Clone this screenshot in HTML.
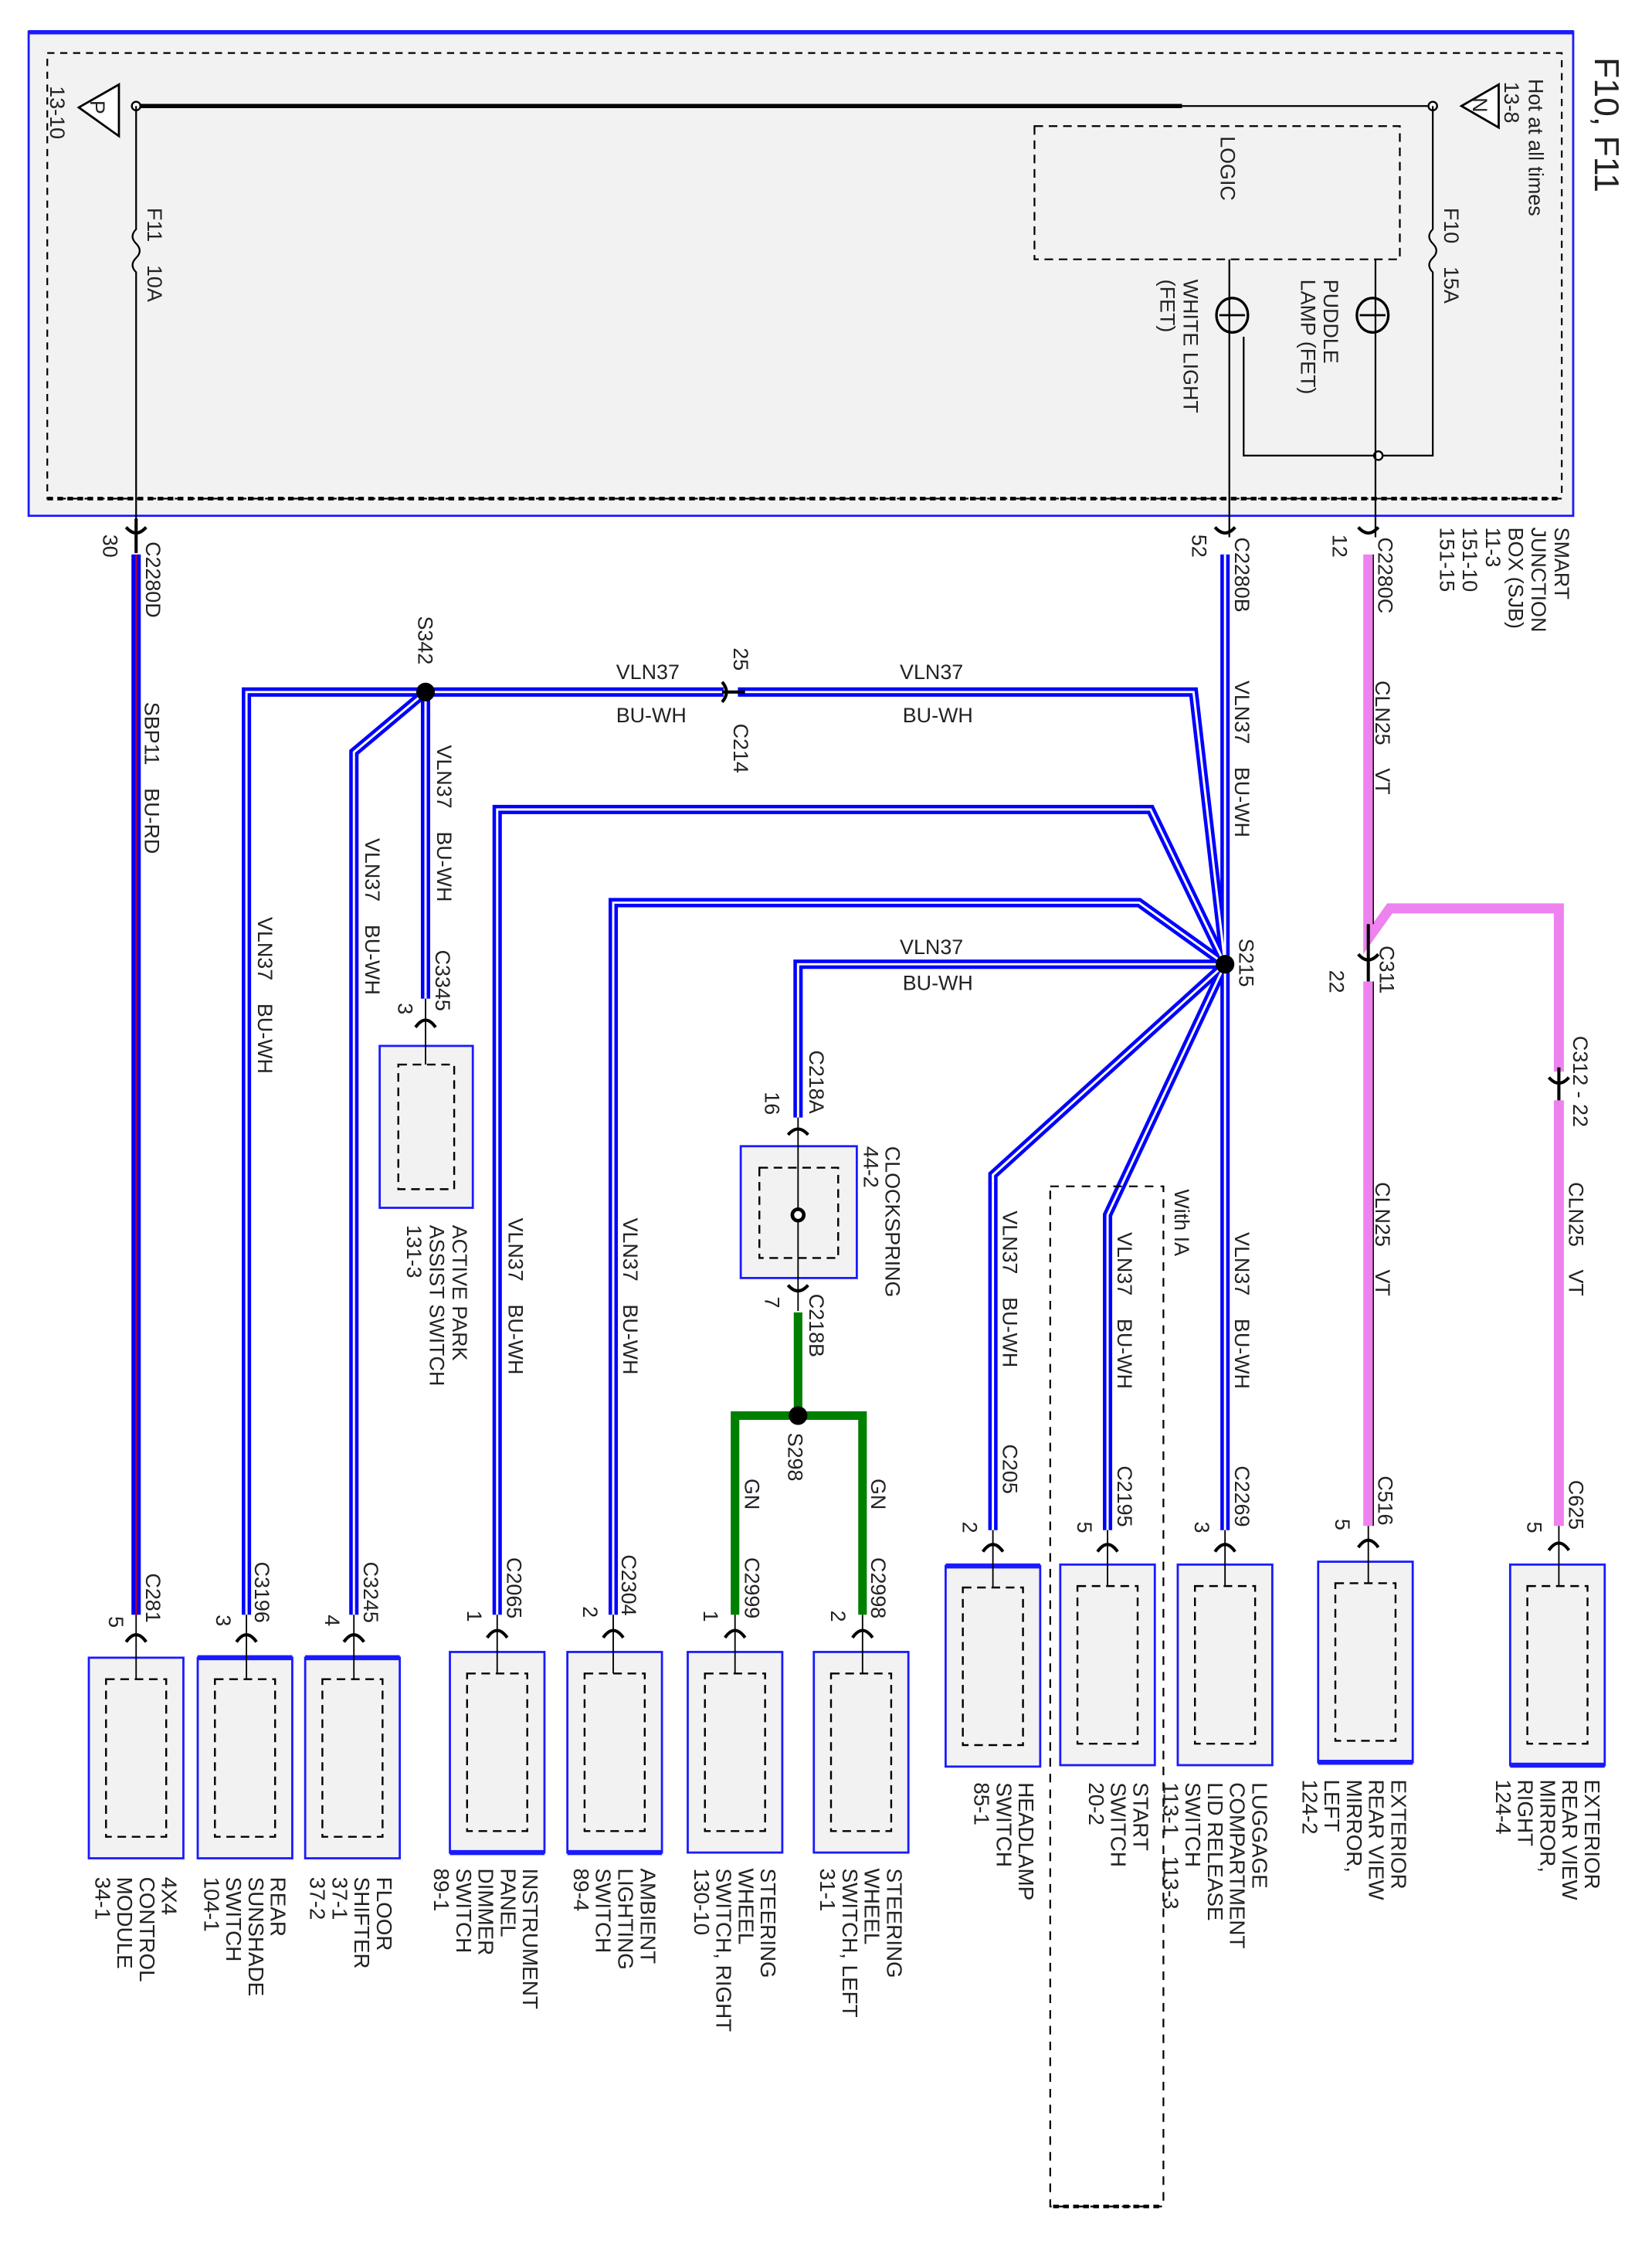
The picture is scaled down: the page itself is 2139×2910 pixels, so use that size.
<!DOCTYPE html>
<html><head><meta charset="utf-8"><style>
html,body{margin:0;padding:0;background:#fff;}
svg{display:block;}
text{font-family:"Liberation Sans",sans-serif;fill:#222;}
.w{fill:none;stroke:#0000ff;stroke-width:6.5;stroke-linejoin:miter;}
.wc{fill:none;stroke:#fff;stroke-width:1.6;stroke-linejoin:miter;}
.bx{fill:#f2f2f2;stroke:#1a1aff;stroke-width:1.5;}
.dbx{fill:none;stroke:#000;stroke-width:1.3;stroke-dasharray:6,4;}
.t{font-size:14.5px;}
.ws{word-spacing:12px;}
.lb{font-size:15px;}
.ch{fill:none;stroke:#000;stroke-width:2.2;}
</style></head><body>
<svg width="2139" height="2910" viewBox="0 0 1153 1569" preserveAspectRatio="none" xmlns="http://www.w3.org/2000/svg">
<rect x="20" y="22" width="1078" height="338" fill="#f2f2f2" stroke="#1a1aff" stroke-width="1.5"/>
<line x1="20" y1="22.5" x2="1098" y2="22.5" stroke="#1a1aff" stroke-width="3"/>
<rect x="33" y="37" width="1057" height="311" fill="none" stroke="#000" stroke-width="1.2" stroke-dasharray="5,4"/>
<line x1="33" y1="348" x2="1090" y2="348" stroke="#000" stroke-width="2.5" stroke-dasharray="4,3"/>
<text class="lb" style="font-size:24px" transform="translate(1113,40) rotate(90)">F10, F11</text>
<text class="t" transform="translate(1067,55) rotate(90)">Hot at all times</text>
<text class="t" transform="translate(1050,57) rotate(90)">13-8</text>
<text class="t" transform="translate(35,60) rotate(90)">13-10</text>
<line x1="95" y1="74" x2="825" y2="74" stroke="#000" stroke-width="3"/>
<line x1="825" y1="74" x2="1000" y2="74" stroke="#000" stroke-width="1.2"/>
<polygon points="55,75 83,59 83,95" fill="#fff" stroke="#000" stroke-width="1.5"/>
<text class="t" transform="translate(63,70) rotate(90)">P</text>
<polygon points="1020,74 1046,59 1046,89" fill="#fff" stroke="#000" stroke-width="1.5"/>
<text class="t" transform="translate(1028,68) rotate(90)">N</text>
<circle cx="95" cy="74" r="3" fill="#fff" stroke="#000" stroke-width="1.3"/>
<circle cx="1000" cy="74" r="3" fill="#fff" stroke="#000" stroke-width="1.3"/>
<path d="M95,74 V160 q-5,5 0,10 q5,5 0,10 q-5,5 0,10 V375" fill="none" stroke="#000" stroke-width="1.2"/>
<text class="t ws" transform="translate(103,145) rotate(90)">F11 10A</text>
<path d="M1000,74 V160 q-5,5 0,10 q5,5 0,10 q-5,5 0,10 V318 H868 V235" fill="none" stroke="#000" stroke-width="1.2"/>
<text class="t ws" transform="translate(1008,145) rotate(90)">F10 15A</text>
<circle cx="962" cy="318" r="3" fill="#fff" stroke="#000" stroke-width="1.3"/>
<rect x="722" y="88" width="255" height="93" fill="none" stroke="#000" stroke-width="1.2" stroke-dasharray="6,4"/>
<text class="t" transform="translate(852,95) rotate(90)">LOGIC</text>
<line x1="858" y1="181" x2="858" y2="375" stroke="#000" stroke-width="1.2"/>
<line x1="960" y1="181" x2="960" y2="375" stroke="#000" stroke-width="1.2"/>
<ellipse cx="860" cy="220" rx="11" ry="12" fill="none" stroke="#000" stroke-width="1.8"/>
<line x1="851" y1="220" x2="869" y2="220" stroke="#000" stroke-width="1.5"/>
<ellipse cx="958" cy="220" rx="11" ry="12" fill="none" stroke="#000" stroke-width="1.8"/>
<line x1="949" y1="220" x2="967" y2="220" stroke="#000" stroke-width="1.5"/>
<text class="t" transform="translate(924,195) rotate(90)">PUDDLE</text>
<text class="t" transform="translate(908,195) rotate(90)">LAMP (FET)</text>
<text class="t" transform="translate(826,195) rotate(90)">WHITE LIGHT</text>
<text class="t" transform="translate(810,195) rotate(90)">(FET)</text>
<g class="t">
<text transform="translate(1085,368) rotate(90)">SMART</text>
<text transform="translate(1069,368) rotate(90)">JUNCTION</text>
<text transform="translate(1053,368) rotate(90)">BOX (SJB)</text>
<text transform="translate(1037,368) rotate(90)">11-3</text>
<text transform="translate(1021,368) rotate(90)">151-10</text>
<text transform="translate(1005,368) rotate(90)">151-15</text>
</g>

<line x1="95" y1="387" x2="95" y2="1127" stroke="#0000ee" stroke-width="6.5"/>
<line x1="95" y1="387" x2="95" y2="1127" stroke="#e00" stroke-width="0.8"/>
<text class="t ws" transform="translate(101,490) rotate(90)">SBP11 BU-RD</text>

<path d="M955,387 V655 L970,634 H1088 V748" fill="none" stroke="#ee82ee" stroke-width="7"/>
<line x1="958.5" y1="387" x2="958.5" y2="645" stroke="#000" stroke-width="0.8"/>
<line x1="955" y1="685" x2="955" y2="1065" stroke="#ee82ee" stroke-width="7"/>
<line x1="958.5" y1="685" x2="958.5" y2="1065" stroke="#000" stroke-width="0.8"/>
<line x1="1088" y1="768" x2="1088" y2="1065" stroke="#ee82ee" stroke-width="7"/>
<text class="t ws" transform="translate(960,475) rotate(90)">CLN25 VT</text>
<text class="t ws" transform="translate(960,825) rotate(90)">CLN25 VT</text>
<text class="t ws" transform="translate(1095,825) rotate(90)">CLN25 VT</text>

<g>
<path class="w" d="M855,387 V1068"/>
<path class="w" d="M855,673 L833,483 H515"/>
<path class="w" d="M505,483 H297 M297,483 V697"/>
<path class="w" d="M297,483 H172 V1127"/>
<path class="w" d="M297,483 L247,525 V1127"/>
<path class="w" d="M855,673 L803,565 H347 V1127"/>
<path class="w" d="M855,673 L795,630 H428 V1127"/>
<path class="w" d="M855,673 H557 V780"/>
<path class="w" d="M855,673 L693,820 V1068"/>
<path class="w" d="M855,673 L773,848 V1068"/>
<path class="wc" d="M855,387 V1068"/>
<path class="wc" d="M855,673 L833,483 H515"/>
<path class="wc" d="M505,483 H297 M297,483 V697"/>
<path class="wc" d="M297,483 H172 V1127"/>
<path class="wc" d="M297,483 L247,525 V1127"/>
<path class="wc" d="M855,673 L803,565 H347 V1127"/>
<path class="wc" d="M855,673 L795,630 H428 V1127"/>
<path class="wc" d="M855,673 H557 V780"/>
<path class="wc" d="M855,673 L693,820 V1068"/>
<path class="wc" d="M855,673 L773,848 V1068"/>
</g>
<circle cx="855" cy="673" r="6.5" fill="#000"/>
<circle cx="297" cy="483" r="6.5" fill="#000"/>
<text class="t" transform="translate(865,655) rotate(90)">S215</text>
<text class="t" transform="translate(292,430) rotate(90)">S342</text>
<text class="t" x="430" y="474">VLN37</text><text class="t" x="430" y="504">BU-WH</text>
<text class="t" x="628" y="474">VLN37</text><text class="t" x="630" y="504">BU-WH</text>
<text class="t" x="628" y="666">VLN37</text><text class="t" x="630" y="691">BU-WH</text>
<g class="t ws">
<text transform="translate(862,475) rotate(90)">VLN37 BU-WH</text>
<text transform="translate(305,520) rotate(90)">VLN37 BU-WH</text>
<text transform="translate(255,585) rotate(90)">VLN37 BU-WH</text>
<text transform="translate(180,640) rotate(90)">VLN37 BU-WH</text>
<text transform="translate(355,850) rotate(90)">VLN37 BU-WH</text>
<text transform="translate(435,850) rotate(90)">VLN37 BU-WH</text>
<text transform="translate(700,845) rotate(90)">VLN37 BU-WH</text>
<text transform="translate(780,860) rotate(90)">VLN37 BU-WH</text>
<text transform="translate(862,860) rotate(90)">VLN37 BU-WH</text>
</g>

<path class="ch" d="M504,476 Q510,483 504,490 M504,483 H520"/>
<text class="t" transform="translate(512,452) rotate(90)">25</text>
<text class="t" transform="translate(512,505) rotate(90)">C214</text>

<rect x="517" y="800" width="81" height="92" class="bx"/>
<rect x="530" y="815" width="55" height="63" class="dbx"/>
<line x1="557" y1="780" x2="557" y2="915" stroke="#000" stroke-width="1"/>
<circle cx="557" cy="848" r="4" fill="#fff" stroke="#000" stroke-width="2.5"/>
<text class="t" transform="translate(618,800) rotate(90)">CLOCKSPRING</text>
<text class="t" transform="translate(603,800) rotate(90)">44-2</text>
<text class="t" transform="translate(565,733) rotate(90)">C218A</text>
<text class="t" transform="translate(534,762) rotate(90)">16</text>
<text class="t" transform="translate(565,903) rotate(90)">C218B</text>
<text class="t" transform="translate(534,905) rotate(90)">7</text>
<path d="M557,916 V988 M510,988 H605 M513,988 V1127 M602,988 V1127" fill="none" stroke="#008000" stroke-width="6"/>
<circle cx="557" cy="988" r="6.5" fill="#000"/>
<text class="t" transform="translate(550,1000) rotate(90)">S298</text>
<text class="t" transform="translate(520,1032) rotate(90)">GN</text>
<text class="t" transform="translate(608,1032) rotate(90)">GN</text>

<rect x="733" y="828" width="79" height="712" fill="none" stroke="#000" stroke-width="1.2" stroke-dasharray="6,5"/>
<line x1="735" y1="1540" x2="810" y2="1540" stroke="#000" stroke-width="2.5" stroke-dasharray="4,3"/>
<text class="t" transform="translate(820,830) rotate(90)">With IA</text>

<rect x="265" y="730" width="65" height="113" class="bx"/>
<rect x="278" y="743" width="39" height="87" class="dbx"/>
<line x1="297" y1="697" x2="297" y2="743" stroke="#000" stroke-width="1"/>
<path class="ch" d="M290,717 Q297,707 304,717"/>
<text class="t" transform="translate(304,663) rotate(90)">C3345</text>
<text class="t" transform="translate(278,700) rotate(90)">3</text>
<g class="t">
<text transform="translate(316,855) rotate(90)">ACTIVE PARK</text>
<text transform="translate(300,855) rotate(90)">ASSIST SWITCH</text>
<text transform="translate(284,855) rotate(90)">131-3</text>
</g>

<path class="ch" d="M88,368 Q95,376 102,368 M95,362 V386"/>
<path class="ch" d="M848,368 Q855,376 862,368"/>
<path class="ch" d="M948,368 Q955,376 962,368"/>
<path class="ch" d="M948,666 Q955,674 962,666 M955,645 V685"/>
<path class="ch" d="M1081,752 Q1088,760 1095,752 M1088,745 V768"/>
<path class="ch" d="M550,897 Q557,905 564,897"/>
<path class="ch" d="M550,792 Q557,784 564,792"/>
<text class="t" transform="translate(102,378) rotate(90)">C2280D</text>
<text class="t" transform="translate(72,373) rotate(90)">30</text>
<text class="t" transform="translate(862,375) rotate(90)">C2280B</text>
<text class="t" transform="translate(832,373) rotate(90)">52</text>
<text class="t" transform="translate(962,375) rotate(90)">C2280C</text>
<text class="t" transform="translate(930,373) rotate(90)">12</text>
<text class="t" transform="translate(963,660) rotate(90)">C311</text>
<text class="t" transform="translate(928,677) rotate(90)">22</text>
<text class="t" transform="translate(1098,723) rotate(90)">C312 - 22</text>

<g>
<rect x="62" y="1157" width="66" height="140" class="bx"/><rect x="74" y="1172" width="42" height="110" class="dbx"/>
<rect x="138" y="1157" width="66" height="140" class="bx"/><rect x="150" y="1172" width="42" height="110" class="dbx"/>
<rect x="213" y="1157" width="66" height="140" class="bx"/><rect x="225" y="1172" width="42" height="110" class="dbx"/>
<rect x="314" y="1153" width="66" height="140" class="bx"/><rect x="326" y="1168" width="42" height="110" class="dbx"/>
<rect x="396" y="1153" width="66" height="140" class="bx"/><rect x="408" y="1168" width="42" height="110" class="dbx"/>
<rect x="480" y="1153" width="66" height="140" class="bx"/><rect x="492" y="1168" width="42" height="110" class="dbx"/>
<rect x="568" y="1153" width="66" height="140" class="bx"/><rect x="580" y="1168" width="42" height="110" class="dbx"/>
<rect x="660" y="1093" width="66" height="140" class="bx"/><rect x="672" y="1108" width="42" height="110" class="dbx"/>
<rect x="740" y="1092" width="66" height="140" class="bx"/><rect x="752" y="1107" width="42" height="110" class="dbx"/>
<rect x="822" y="1092" width="66" height="140" class="bx"/><rect x="834" y="1107" width="42" height="110" class="dbx"/>
<rect x="920" y="1090" width="66" height="140" class="bx"/><rect x="932" y="1105" width="42" height="110" class="dbx"/>
<rect x="1054" y="1092" width="66" height="140" class="bx"/><rect x="1066" y="1107" width="42" height="110" class="dbx"/>
<g stroke="#1a1aff" stroke-width="3.5">
<line x1="138" y1="1157" x2="204" y2="1157"/><line x1="213" y1="1157" x2="279" y2="1157"/>
<line x1="314" y1="1293" x2="380" y2="1293"/><line x1="396" y1="1293" x2="462" y2="1293"/>
<line x1="660" y1="1093" x2="726" y2="1093"/><line x1="920" y1="1230" x2="986" y2="1230"/><line x1="1054" y1="1232" x2="1120" y2="1232"/>
</g>
</g>
<g stroke="#000" stroke-width="1" fill="none">
<path d="M95,1127 V1172 M172,1127 V1172 M247,1127 V1172 M347,1127 V1168 M428,1127 V1168 M513,1127 V1168 M602,1127 V1168 M693,1068 V1108 M773,1068 V1107 M855,1068 V1107 M955,1065 V1105 M1088,1065 V1107"/>
</g>
<g class="ch">
<path d="M88,1146 Q95,1136 102,1146"/><path d="M165,1146 Q172,1136 179,1146"/><path d="M240,1146 Q247,1136 254,1146"/>
<path d="M340,1143 Q347,1133 354,1143"/><path d="M421,1143 Q428,1133 435,1143"/><path d="M506,1143 Q513,1133 520,1143"/><path d="M595,1143 Q602,1133 609,1143"/>
<path d="M686,1083 Q693,1073 700,1083"/><path d="M766,1083 Q773,1073 780,1083"/><path d="M848,1083 Q855,1073 862,1083"/><path d="M948,1080 Q955,1070 962,1080"/><path d="M1081,1082 Q1088,1072 1095,1082"/>
</g>
<g class="t">
<text transform="translate(102,1098) rotate(90)">C281</text><text transform="translate(76,1128) rotate(90)">5</text>
<text transform="translate(178,1090) rotate(90)">C3196</text><text transform="translate(151,1127) rotate(90)">3</text>
<text transform="translate(254,1090) rotate(90)">C3245</text><text transform="translate(227,1127) rotate(90)">4</text>
<text transform="translate(354,1087) rotate(90)">C2065</text><text transform="translate(326,1124) rotate(90)">1</text>
<text transform="translate(434,1085) rotate(90)">C2304</text><text transform="translate(407,1121) rotate(90)">2</text>
<text transform="translate(520,1087) rotate(90)">C2999</text><text transform="translate(491,1124) rotate(90)">1</text>
<text transform="translate(608,1087) rotate(90)">C2998</text><text transform="translate(580,1124) rotate(90)">2</text>
<text transform="translate(700,1008) rotate(90)">C205</text><text transform="translate(672,1062) rotate(90)">2</text>
<text transform="translate(780,1023) rotate(90)">C2195</text><text transform="translate(752,1062) rotate(90)">5</text>
<text transform="translate(862,1023) rotate(90)">C2269</text><text transform="translate(834,1062) rotate(90)">3</text>
<text transform="translate(962,1030) rotate(90)">C516</text><text transform="translate(932,1060) rotate(90)">5</text>
<text transform="translate(1095,1033) rotate(90)">C625</text><text transform="translate(1066,1062) rotate(90)">5</text>
</g>
<g class="lb">
<text transform="translate(113,1310) rotate(90)"><tspan x="0">4X4</tspan><tspan x="0" dy="15.5">CONTROL</tspan><tspan x="0" dy="15.5">MODULE</tspan><tspan x="0" dy="15.5">34-1</tspan></text>
<text transform="translate(189,1310) rotate(90)"><tspan x="0">REAR</tspan><tspan x="0" dy="15.5">SUNSHADE</tspan><tspan x="0" dy="15.5">SWITCH</tspan><tspan x="0" dy="15.5">104-1</tspan></text>
<text transform="translate(263,1310) rotate(90)"><tspan x="0">FLOOR</tspan><tspan x="0" dy="15.5">SHIFTER</tspan><tspan x="0" dy="15.5">37-1</tspan><tspan x="0" dy="15.5">37-2</tspan></text>
<text transform="translate(365,1304) rotate(90)"><tspan x="0">INSTRUMENT</tspan><tspan x="0" dy="15.5">PANEL</tspan><tspan x="0" dy="15.5">DIMMER</tspan><tspan x="0" dy="15.5">SWITCH</tspan><tspan x="0" dy="15.5">89-1</tspan></text>
<text transform="translate(447,1304) rotate(90)"><tspan x="0">AMBIENT</tspan><tspan x="0" dy="15.5">LIGHTING</tspan><tspan x="0" dy="15.5">SWITCH</tspan><tspan x="0" dy="15.5">89-4</tspan></text>
<text transform="translate(531,1304) rotate(90)"><tspan x="0">STEERING</tspan><tspan x="0" dy="15.5">WHEEL</tspan><tspan x="0" dy="15.5">SWITCH, RIGHT</tspan><tspan x="0" dy="15.5">130-10</tspan></text>
<text transform="translate(619,1304) rotate(90)"><tspan x="0">STEERING</tspan><tspan x="0" dy="15.5">WHEEL</tspan><tspan x="0" dy="15.5">SWITCH, LEFT</tspan><tspan x="0" dy="15.5">31-1</tspan></text>
<text transform="translate(711,1244) rotate(90)"><tspan x="0">HEADLAMP</tspan><tspan x="0" dy="15.5">SWITCH</tspan><tspan x="0" dy="15.5">85-1</tspan></text>
<text transform="translate(791,1244) rotate(90)"><tspan x="0">START</tspan><tspan x="0" dy="15.5">SWITCH</tspan><tspan x="0" dy="15.5">20-2</tspan></text>
<text transform="translate(874,1244) rotate(90)"><tspan x="0">LUGGAGE</tspan><tspan x="0" dy="15.5">COMPARTMENT</tspan><tspan x="0" dy="15.5">LID RELEASE</tspan><tspan x="0" dy="15.5">SWITCH</tspan><tspan x="0" dy="15.5" style="word-spacing:10px">113-1 113-3</tspan></text>
<text transform="translate(971,1242) rotate(90)"><tspan x="0">EXTERIOR</tspan><tspan x="0" dy="15.5">REAR VIEW</tspan><tspan x="0" dy="15.5">MIRROR,</tspan><tspan x="0" dy="15.5">LEFT</tspan><tspan x="0" dy="15.5">124-2</tspan></text>
<text transform="translate(1106,1242) rotate(90)"><tspan x="0">EXTERIOR</tspan><tspan x="0" dy="15.5">REAR VIEW</tspan><tspan x="0" dy="15.5">MIRROR,</tspan><tspan x="0" dy="15.5">RIGHT</tspan><tspan x="0" dy="15.5">124-4</tspan></text>
</g>
</svg>
</body></html>
